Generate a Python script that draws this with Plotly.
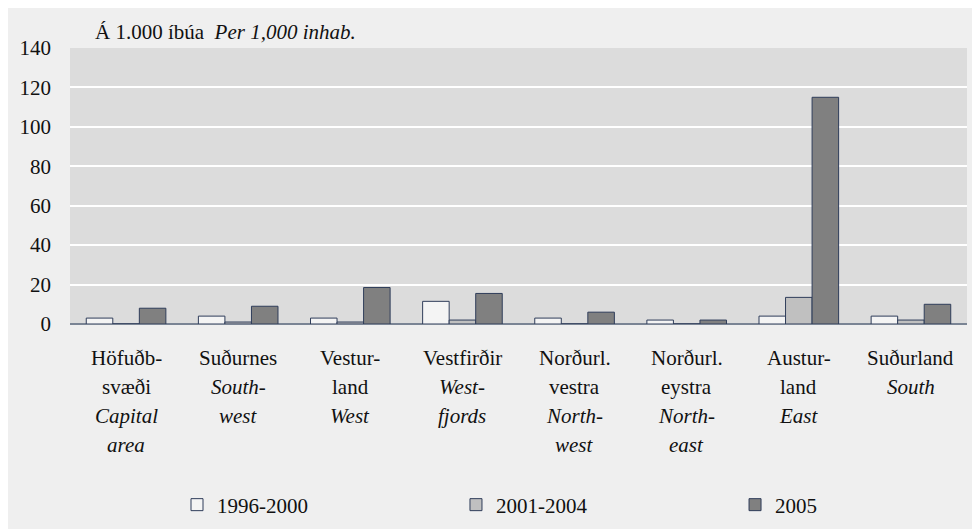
import plotly.graph_objects as go

categories = ["Höfuðb-svæði", "Suðurnes", "Vesturland", "Vestfirðir",
              "Norðurl. vestra", "Norðurl. eystra", "Austurland", "Suðurland"]
label_lines = [
    ["Höfuðb-", "svæði", "<i>Capital</i>", "<i>area</i>"],
    ["Suðurnes", "<i>South-</i>", "<i>west</i>"],
    ["Vestur-", "land", "<i>West</i>"],
    ["Vestfirðir", "<i>West-</i>", "<i>fjords</i>"],
    ["Norðurl.", "vestra", "<i>North-</i>", "<i>west</i>"],
    ["Norðurl.", "eystra", "<i>North-</i>", "<i>east</i>"],
    ["Austur-", "land", "<i>East</i>"],
    ["Suðurland", "<i>South</i>"],
]
series_names = ["1996-2000", "2001-2004", "2005"]
v_1996_2000 = [3, 4, 3, 11.5, 3, 2, 4, 4]
v_2001_2004 = [0, 1, 1, 2, 0, 0, 13.5, 2]
v_2005 = [8, 9, 18.5, 15.5, 6, 2, 115, 10]
y_ticks = [0, 20, 40, 60, 80, 100, 120, 140]

colors = ["#f4f4f4", "#c0c0c0", "#808080"]
legend_ids = ["legend", "legend2", "legend3"]
legend_x = [0.1193, 0.4303, 0.7414]
FONT = "Liberation Serif"
FS = 21
TXT = "#111111"

fig = go.Figure()
for name, vals, col, lid in zip(series_names, [v_1996_2000, v_2001_2004, v_2005], colors, legend_ids):
    fig.add_trace(go.Bar(
        x=categories, y=vals, name=name, legend=lid,
        marker=dict(color=col, line=dict(color="#2f3d5a", width=1)),
    ))

annotations = []
line_step = 29
for cat, lines in zip(categories, label_lines):
    for i, t in enumerate(lines):
        annotations.append(dict(
            x=cat, xref="x", y=0, yref="paper", yanchor="top",
            yshift=-20 - line_step * i, text=t, showarrow=False,
            font=dict(family=FONT, size=FS, color=TXT),
        ))
annotations.append(dict(
    x=0.0256, xref="paper", xanchor="left", y=1.058, yref="paper",
    yanchor="middle", showarrow=False,
    text="Á 1.000 íbúa  <i>Per 1,000 inhab.</i>",
    font=dict(family=FONT, size=FS, color=TXT),
))

legends = {}
for lid, lx in zip(legend_ids, legend_x):
    legends[lid] = dict(orientation="h", x=lx, xref="paper", xanchor="left",
                        y=0.0605, yref="container", yanchor="middle",
                        font=dict(family=FONT, size=FS, color=TXT),
                        bgcolor="rgba(0,0,0,0)", itemwidth=30)

fig.update_layout(
    width=980, height=529,
    margin=dict(l=62, r=21, t=40, b=213),
    paper_bgcolor="#efefef", plot_bgcolor="#dcdcdc",
    barmode="group", bargap=0.29, bargroupgap=0,
    font=dict(family=FONT, size=FS, color=TXT),
    showlegend=True,
    annotations=annotations,
    xaxis=dict(showticklabels=False, showline=False, ticks=""),
    yaxis=dict(range=[0, 140], tickvals=y_ticks, showgrid=True, gridcolor="#ffffff",
               gridwidth=2, zeroline=True, zerolinecolor="#7a8494", zerolinewidth=2,
               ticks="", tickfont=dict(family=FONT, size=FS, color=TXT),
               ticklabelstandoff=18),
    **legends,
)

fig.write_html("out.html")
